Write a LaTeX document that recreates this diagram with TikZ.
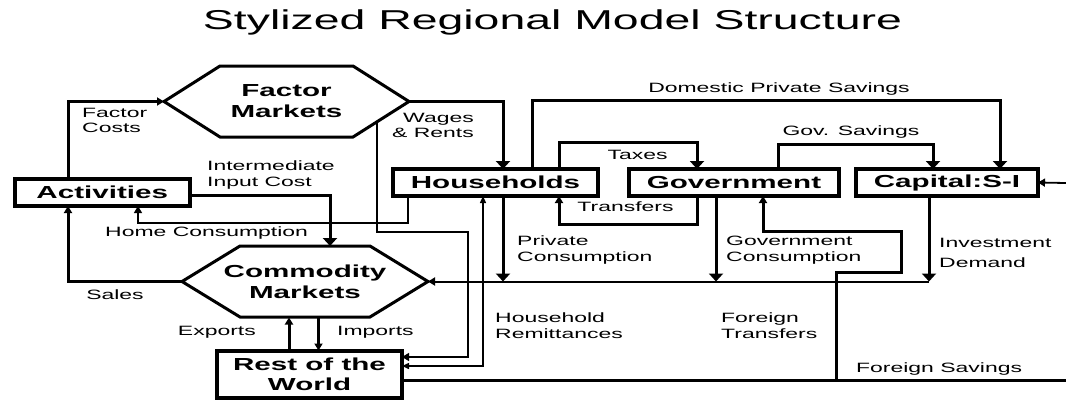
\documentclass[tikz,border=0pt]{standalone}
\usepackage{fontspec}
\setmainfont{Liberation Sans}[FakeStretch=1.7]
\usetikzlibrary{arrows.meta}

\begin{document}
\begin{tikzpicture}[x=1pt,y=-1pt,
    box/.style={draw,line width=4pt,inner sep=0pt,outer sep=0pt,minimum height=27pt,align=center,font=\fontsize{17.4}{20.5}\selectfont\bfseries},
    market/.style={inner sep=0pt,outer sep=0pt,minimum height=71pt,align=center,font=\fontsize{17.4}{21}\selectfont\bfseries},
    lbl/.style={inner sep=0pt,align=left,font=\fontsize{13.5}{15.5}\selectfont},
    flow/.style={line width=3pt},
    wire/.style={line width=1.4pt},
    bigtip/.style={arrows={-{Triangle[length=8pt,width=14pt]}}},
    smalltip/.style={arrows={-{Triangle[length=7pt,width=8pt]}}},
    twotip/.style={arrows={{Triangle[length=7pt,width=6pt]}-{Triangle[length=7pt,width=6pt]}}}]
\useasboundingbox (0,0) rectangle (1066,402);

\node[anchor=north,inner sep=0pt,font=\fontsize{27.3}{30}\selectfont] (title) at (552.5,10) {Stylized Regional Model Structure};

% accounts
\node[market,minimum width=245pt] (factor) at (286.5,101.5) {Factor\\Markets};
\node[market,minimum width=246pt] (commodity) at (305,281.5) {Commodity\\Markets};
\node[box,minimum width=174.5pt] (act) at (102.25,192.5) {Activities};
\node[box,minimum width=205pt] (hh) at (495.5,182.5) {Households};
\node[box,minimum width=210pt] (gov) at (734,182.5) {Government};
\node[box,minimum width=182pt] (cap) at (947,182.5) {Capital:S-I};
\node[box,minimum width=185pt,minimum height=47pt] (row) at (309.5,374.5) {Rest of the\\World};

\foreach \m/\d in {factor/56,commodity/58}
  \draw[line width=3pt] (\m.west) -- ([xshift=\d pt]\m.north west) -- ([xshift=-\d pt]\m.north east)
    -- (\m.east) -- ([xshift=-\d pt]\m.south east) -- ([xshift=\d pt]\m.south west) -- cycle;

\coordinate (fsav) at (1066,380.5);
\coordinate (ftr) at (836,380.5);
\coordinate (fin) at (1066,183);

% payments
\draw[flow,smalltip] ([xshift=53pt]act.north west) |- (factor.west);
\draw[flow,bigtip] (factor.east) -| ([xshift=110pt]hh.north west);
\draw[flow,bigtip] ([xshift=139pt]hh.north west) -- ++(0,-69) -| ([xshift=144pt]cap.north west);
\draw[flow,bigtip] ([xshift=166pt]hh.north west) -- ++(0,-27) -| ([xshift=68pt]gov.north west);
\draw[flow,smalltip] ([xshift=68pt]gov.south west) -- ++(0,28) -| ([xshift=166pt]hh.south west);
\draw[flow,bigtip] ([xshift=149pt]gov.north west) -- ++(0,-25) -| ([xshift=77pt]cap.north west);
\draw[flow,bigtip] ([yshift=-2.5pt]act.east) -| ([xshift=148pt]commodity.north west);
\draw[wire,smalltip] ([xshift=15pt]hh.south west) -- ++(0,27) -| ([xshift=123pt]act.south west);
\draw[flow,smalltip] (commodity.west) -| ([xshift=53pt]act.south west);

% final demand
\draw[flow,bigtip] ([xshift=110pt]hh.south west) coordinate (pc) -- (pc |- commodity.east);
\draw[flow,bigtip] ([xshift=87pt]gov.south west) coordinate (gc) -- (gc |- commodity.east);
\draw[flow,bigtip] ([xshift=73pt]cap.south west) coordinate (inv) -- (inv |- commodity.east) coordinate (invd);
\draw[line width=2pt,smalltip] (invd) -- (commodity.east);

% trade and foreign flows
\draw[flow,smalltip] ([xshift=72pt]row.north west) -- ++(0,-33.5);
\draw[flow,smalltip] ([xshift=136.5pt]commodity.south west) -- ++(0,33.5);
\draw[wire,smalltip] ([xshift=-32pt,yshift=15pt]factor.south east) -- ++(0,110) -- ++(91,0) |- ([yshift=17.5pt]row.east);
\draw[wire,twotip] ([yshift=8.5pt]row.east) -| ([xshift=90pt]hh.south west);
\draw[flow] (fsav) -- (fsav -| row.east);
\draw[flow,smalltip] (ftr) -- ++(0,-108.5) -- ++(65,0) -- ++(0,-41) -| ([xshift=134pt]gov.south west);
\draw[line width=1.8pt,smalltip] (fin) -- (cap.east);

% flow labels
\node[lbl,anchor=north west] (fcostlbl) at (82,108) {Factor\\Costs};
\node[lbl,anchor=north east,align=right] (wagelbl) at (474,113) {Wages\\\& Rents};
\node[lbl,anchor=north west] (interlbl) at (207,161) {Intermediate\\Input Cost};
\node[lbl,anchor=north west] (homelbl) at (105,227) {Home Consumption};
\node[lbl,anchor=north] (dpslbl) at (779,83) {Domestic Private Savings};
\node[lbl,anchor=north] (taxlbl) at (637.5,150) {Taxes};
\node[lbl,anchor=north] (trnlbl) at (625.5,202) {Transfers};
\node[lbl,anchor=north] (gsavlbl) at (851,126) {Gov. Savings};
\node[lbl,anchor=north west] (pconlbl) at (517,236) {Private\\Consumption};
\node[lbl,anchor=north west] (gconlbl) at (726,236) {Government\\Consumption};
\node[lbl,anchor=north west] (invlbl) at (939,238) {Investment\\[4.5pt]Demand};
\node[lbl,anchor=north] (salelbl) at (115,290) {Sales};
\node[lbl,anchor=north east] (explbl) at (256,326) {Exports};
\node[lbl,anchor=north west] (implbl) at (337,326) {Imports};
\node[lbl,anchor=north west] (remlbl) at (495,313) {Household\\Remittances};
\node[lbl,anchor=north west] (ftrlbl) at (721,313) {Foreign\\Transfers};
\node[lbl,anchor=north west] (fsavlbl) at (856,363) {Foreign Savings};
\end{tikzpicture}
\end{document}
